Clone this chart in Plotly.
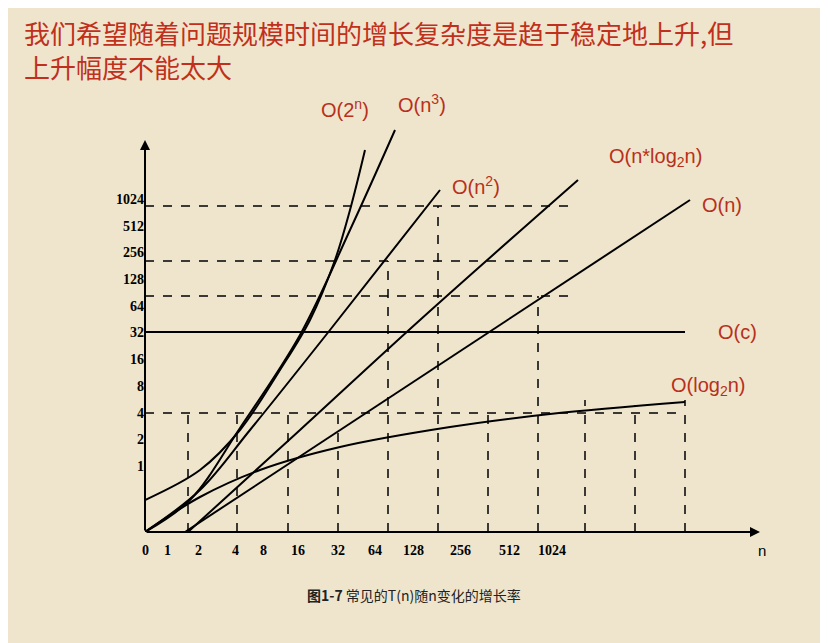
import plotly.graph_objects as go

# x in chart units (offset from origin), y in log2 units
x_tick_pos = [0, 22, 53, 90, 118, 153, 193, 230, 268, 315, 364, 407]
x_tick_text = ["0", "1", "2", "4", "8", "16", "32", "64", "128", "256", "512", "1024"]
y_tick_vals = [0, 1, 2, 3, 4, 5, 6, 7, 8, 9, 10]
y_tick_text = ["1", "2", "4", "8", "16", "32", "64", "128", "256", "512", "1024"]

def px2x(p): return p - 145
def py2y(p): return (466 - p) / 26.7

curves = {
    "O(c)": ([145, 685], [332, 332]),
    "O(n)": ([185, 690], [532, 200]),
    "O(nlogn)": ([188, 300, 420, 578], [532, 430, 320, 180]),
    "O(n2)": ([145, 200, 250, 330, 440], [532, 490, 430, 330, 190]),
    "O(n3)": ([145, 190, 240, 300, 350, 395], [532, 500, 428, 335, 230, 130]),
    "O(2n)": ([145, 200, 240, 280, 310, 335, 350, 365], [500, 470, 430, 370, 320, 260, 210, 150]),
    "O(logn)": ([145, 200, 260, 340, 450, 550, 685], [532, 497, 470, 447, 427, 414, 402]),
}

fig = go.Figure()
for name, (xs, ys) in curves.items():
    fig.add_trace(go.Scatter(x=[px2x(v) for v in xs], y=[py2y(v) for v in ys],
                             mode="lines", line=dict(color="black", width=2, shape="spline"),
                             showlegend=False, hoverinfo="skip"))

y0 = py2y(532)
dash = dict(color="black", width=1.5, dash="dash")
shapes = []
for py, pxe in [(206, 570), (261, 570), (296, 570), (413, 685)]:
    shapes.append(dict(type="line", x0=0, x1=px2x(pxe), y0=py2y(py), y1=py2y(py), line=dash))
for px, pyt in [(188, 413), (237, 413), (288, 413), (338, 413), (388, 261), (438, 206),
                (488, 413), (538, 296), (585, 400), (635, 405), (685, 400)]:
    shapes.append(dict(type="line", x0=px2x(px), x1=px2x(px), y0=y0, y1=py2y(pyt), line=dash))

ann = []
ann.append(dict(x=0, y=py2y(140), ax=0, ay=y0, xref="x", yref="y", axref="x", ayref="y",
                showarrow=True, arrowhead=2, arrowwidth=2, arrowcolor="black", text=""))
ann.append(dict(x=px2x(760), y=y0, ax=0, ay=y0, xref="x", yref="y", axref="x", ayref="y",
                showarrow=True, arrowhead=2, arrowwidth=2, arrowcolor="black", text=""))
for xv, t in zip(x_tick_pos, x_tick_text):
    ann.append(dict(x=xv, y=y0, yshift=-18, text="<b>" + t + "</b>", showarrow=False,
                    font=dict(family="Liberation Serif", size=14, color="black")))
ann.append(dict(x=px2x(762), y=y0, yshift=-18, text="n", showarrow=False,
                font=dict(family="Liberation Sans", size=15, color="black")))
ann.append(dict(x=px2x(122), y=py2y(160), text="T(n)", showarrow=False,
                font=dict(family="Liberation Sans", size=13, color="black")))
red = "#b8301c"
for t, px, py in [("O(2<sup>n</sup>)", 345, 108), ("O(n<sup>3</sup>)", 422, 103),
                  ("O(n<sup>2</sup>)", 476, 185), ("O(n*log<sub>2</sub>n)", 655, 157),
                  ("O(n)", 722, 205), ("O(c)", 737, 332), ("O(log<sub>2</sub>n)", 708, 386)]:
    ann.append(dict(x=px2x(px), y=py2y(py), text=t, showarrow=False,
                    font=dict(family="Liberation Sans", size=20, color=red)))
ann.append(dict(x=(22 - 145) / 640, y=(532 - 12) / 432, xref="paper", yref="paper",
                xanchor="left", yanchor="top", align="left", showarrow=False,
                text="我们希望随着问题规模时间的增长复杂度是趋于稳定地上升,但<br>上升幅度不能太大",
                font=dict(family="Noto Sans CJK SC", size=26, color="#c0301c")))
ann.append(dict(x=(414 - 145) / 640, y=(532 - 607) / 432, xref="paper", yref="paper",
                showarrow=False, text="<b>图1-7</b> 常见的T(n)随n变化的增长率",
                font=dict(family="Noto Sans CJK SC", size=14, color="#222")))

fig.update_layout(
    width=828, height=643, margin=dict(l=137, r=51, t=92, b=119),
    paper_bgcolor="#efe5cc", plot_bgcolor="#efe5cc",
    xaxis=dict(range=[0, 640], visible=False),
    yaxis=dict(range=[y0, py2y(100)], tickvals=y_tick_vals,
               ticktext=["<b>" + t + "</b>" for t in y_tick_text],
               showgrid=False, zeroline=False, showline=False, ticks="",
               tickfont=dict(family="Liberation Serif", size=14, color="black")),
    shapes=shapes, annotations=ann,
)
fig.write_html("out.html")
